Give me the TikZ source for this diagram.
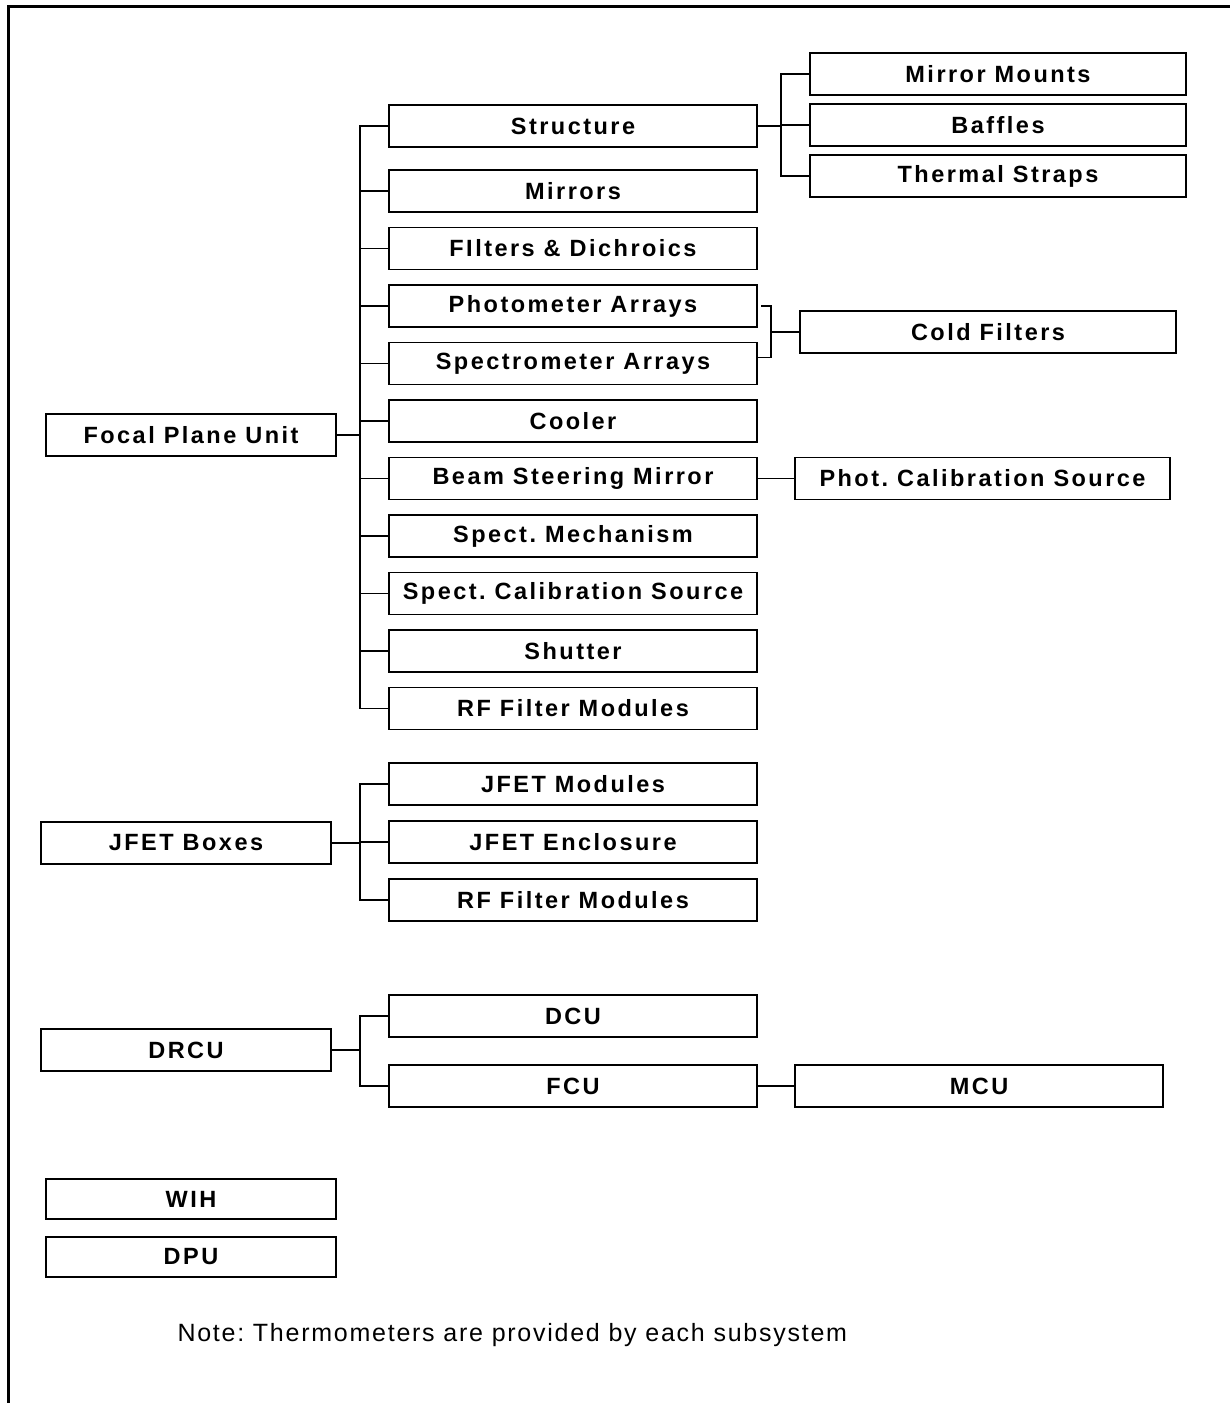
\documentclass[tikz,border=0pt]{standalone}
\usepackage{fontspec}
\setmainfont{Liberation Sans}
\newfontfamily\labfont[LetterSpace=10.5]{Liberation Sans}
\newfontfamily\notefont[LetterSpace=7]{Liberation Sans}
\usetikzlibrary{positioning}
\frenchspacing

\begin{document}
\begin{tikzpicture}[x=1pt, y=-1pt, node distance=15.5pt and 38pt,
  box/.style={draw, line width=1.8pt, minimum height=42pt, inner sep=0pt, outer sep=0pt,
    font=\labfont\bfseries\fontsize{23.5}{26}\selectfont},
  sub/.style={box, minimum width=368pt},
  unit/.style={box, minimum width=290pt},
  far/.style={box, minimum width=376pt},
  wire/.style={line width=1.8pt}]
\useasboundingbox (0,0) rectangle (1230,1403);
\draw[line width=3pt] (8,1403) -- (8,6) -- (1230,6);
% focal plane unit
\node[unit] (fpu) at (191,435) {Focal Plane Unit};
\node[sub] (struc) at (573,126) {Structure};
\node[sub] (mirr) at (573,191) {Mirrors};
\node[sub, below=of mirr] (filt) {FIlters \& Dichroics};
\node[sub, below=of filt] (phot) {Photometer Arrays};
\node[sub, below=of phot] (spec) {Spectrometer Arrays};
\node[sub, below=of spec] (cool) {Cooler};
\node[sub, below=of cool] (bsm) {Beam Steering Mirror};
\node[sub, below=of bsm] (smech) {Spect. Mechanism};
\node[sub, below=of smech] (scal) {Spect. Calibration Source};
\node[sub, below=of scal] (shut) {Shutter};
\node[sub, below=of shut] (rff1) {RF Filter Modules};
\node[far] (mmount) at (998,74) {Mirror Mounts};
\node[far, below=9pt of mmount] (baff) {Baffles};
\node[far, below=9pt of baff] (tstrap) {Thermal Straps};
\node[far] (cold) at (988,332) {Cold Filters};
\node[far, right=of bsm, minimum width=375pt] (pcal) {Phot. Calibration Source};
\coordinate (t1) at (360,435);
\coordinate (t2) at (781,126);
\coordinate (t3) at (771,332);
\foreach \c in {struc,mirr,filt,phot,spec,cool,bsm,smech,scal,shut,rff1}
  \draw[wire] (fpu.east) -- (t1) |- (\c.west);
\foreach \c in {mmount,baff,tstrap}
  \draw[wire] (struc.east) -- (t2) |- (\c.west);
\draw[wire] ([xshift=4pt]phot.east) -| (t3);
\draw[wire] ([yshift=6pt]spec.east) -| (t3);
\draw[wire] (t3) -- (cold.west);
\draw[wire] (bsm) -- (pcal);
% jfet boxes
\node[unit] (jfet) at (186,843) {JFET Boxes};
\node[sub] (jmod) at (573,784) {JFET Modules};
\node[sub, below=16pt of jmod] (jenc) {JFET Enclosure};
\node[sub, below=16pt of jenc] (rff2) {RF Filter Modules};
\coordinate (t4) at (360,843);
\foreach \c in {jmod,jenc,rff2}
  \draw[wire] (jfet.east) -- (t4) |- (\c.west);
% drcu
\node[unit] (drcu) at (186,1050) {DRCU};
\node[sub] (dcu) at (573,1016) {DCU};
\node[sub, below=28pt of dcu] (fcu) {FCU};
\node[sub, right=of fcu] (mcu) {MCU};
\coordinate (t5) at (360,1050);
\foreach \c in {dcu,fcu}
  \draw[wire] (drcu.east) -- (t5) |- (\c.west);
\draw[wire] (fcu) -- (mcu);
% stand-alone units
\node[unit, minimum height=40pt] (wih) at (191,1199) {WIH};
\node[unit, minimum height=40pt, below=18pt of wih] (dpu) {DPU};
\node[anchor=west, font=\notefont\fontsize{25}{28}\selectfont] (note) at (174,1335)
  {Note: Thermometers are provided by each subsystem};
\end{tikzpicture}
\end{document}
